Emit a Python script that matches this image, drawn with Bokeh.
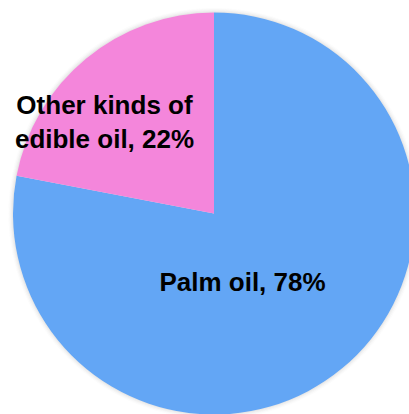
import math
from bokeh.plotting import figure
from bokeh.models import Range1d, ColumnDataSource
from bokeh.core.properties import value
from bokeh.embed import file_html
from bokeh.resources import INLINE

categories = ["Palm oil", "Other kinds of\nedible oil"]
shares = [78, 22]
colors = ["#63A6F5", "#F486DB"]

W, H = 409, 414
cx, cy = 213.5, H - 213.0
R = 201.0

# cumulative angles, clockwise from top
starts, ends = [], []
acc = 0.0
for s in shares:
    a0 = 90 - (acc + s) / sum(shares) * 360
    a1 = 90 - acc / sum(shares) * 360
    starts.append(math.radians(a0))
    ends.append(math.radians(a1))
    acc += s

p = figure(width=W, height=H, x_range=Range1d(0, W), y_range=Range1d(0, H),
           output_backend="svg", toolbar_location=None, min_border=0)
p.axis.visible = False
p.grid.visible = False
p.outline_line_color = None
p.background_fill_color = "white"
p.border_fill_color = "white"

# soft shadow
for i, a in enumerate([0.05, 0.04, 0.03, 0.02]):
    p.circle(x=[cx], y=[cy], radius=R + 1 + i * 1.2, fill_color="#555555",
             fill_alpha=a, line_color=None)

src = ColumnDataSource(dict(start=starts, end=ends, color=colors))
p.wedge(x=cx, y=cy, radius=R, start_angle="start", end_angle="end",
        fill_color="color", line_color=None, source=src)

labels = [f"{c}, {v}%" for c, v in zip(categories, shares)]
lx = [cx + 28.5, 104.0]
ly = [cy - 68.0, H - 121.5]
p.text(x=lx, y=ly, text=labels, text_font=value("Liberation Sans"),
       text_font_style="bold", text_font_size="26px", text_color="black",
       text_align="center", text_baseline="middle", text_line_height=1.15)

open("out.html", "w").write(file_html(p, INLINE))
